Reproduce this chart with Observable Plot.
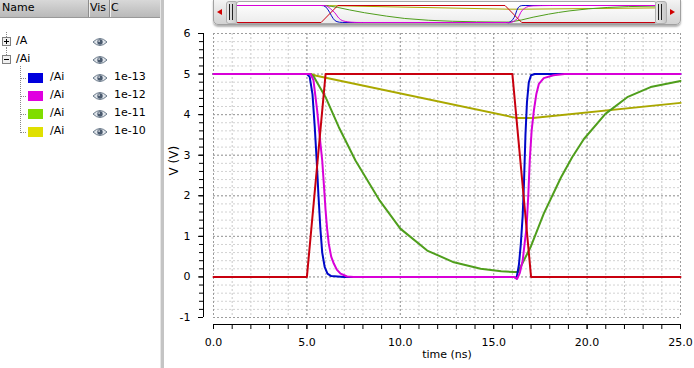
<!DOCTYPE html>
<html><head><meta charset="utf-8">
<script src="https://cdn.jsdelivr.net/npm/d3@7"></script>
<script src="https://cdn.jsdelivr.net/npm/@observablehq/plot@0.6"></script>
<style>
html,body{margin:0;padding:0;background:#fff;}
body{width:694px;height:368px;position:relative;overflow:hidden;font-family:"DejaVu Sans",sans-serif;font-size:11px;color:#000;}
.abs{position:absolute;}
.txt{position:absolute;line-height:12px;white-space:nowrap;}
</style></head><body>
<div id="panel" class="abs" style="left:0;top:0;width:160px;height:368px;background:#fff;"></div>
<div class="abs" style="left:160px;top:0;width:3px;height:368px;background:#c4c4c4;border-left:1px solid #e6e6e6;"></div>
<div id="scroll" class="abs" style="left:0;top:0;width:694px;height:28px;"></div>
<div id="chart" class="abs" style="left:160px;top:28px;"></div>
<script>
// ---- data ----
const timeMajor = [0, 5, 10, 15, 20, 25];
const timeMinor = d3.range(0, 26, 1);
const voltMajor = [-1, 0, 1, 2, 3, 4, 5, 6];
const voltMinor = d3.range(0, 36).map(i => Math.round((-1 + i * 0.2) * 10) / 10);

// input /A
const tA = [0, 5, 6, 16, 17, 25];
const vA = [0, 0, 5, 5, 0, 0];
// /Ai 1e-13
const t13 = [0, 5.0, 5.15, 5.3, 5.42, 5.52, 5.62, 5.72, 5.82, 5.95, 6.1, 6.3, 7, 16.1, 16.22, 16.35, 16.45, 16.55, 16.62, 16.7, 16.78, 16.88, 17.0, 17.2, 25];
const v13 = [5, 5, 4.93, 4.5, 3.7, 2.9, 2.0, 1.2, 0.6, 0.25, 0.08, 0.02, 0, 0, -0.04, 0.3, 0.8, 1.5, 2.3, 3.5, 4.3, 4.8, 4.97, 5, 5];
// /Ai 1e-12
const t12 = [0, 5.2, 5.35, 5.55, 5.7, 5.82, 5.92, 6.0, 6.08, 6.17, 6.3, 6.44, 6.6, 6.8, 7.15, 7.5, 16.1, 16.25, 16.4, 16.55, 16.65, 16.76, 16.85, 16.93, 17.03, 17.15, 17.28, 17.42, 17.68, 18.2, 18.8, 25];
const v12 = [5, 5, 4.85, 4.1, 3.4, 2.87, 2.2, 1.64, 1.2, 0.82, 0.5, 0.33, 0.18, 0.08, 0.01, 0, 0, -0.05, 0.1, 0.4, 0.8, 1.22, 2.0, 2.87, 3.6, 4.1, 4.5, 4.76, 4.9, 4.97, 5, 5];
// /Ai 1e-11
const t11 = [0, 5.2, 5.35, 5.6, 6.0, 6.71, 7.6, 8.9, 10.0, 11.44, 12.87, 14.3, 15.4, 16.1, 16.3, 16.97, 17.68, 18.6, 19.2, 19.83, 20.98, 22.15, 23.4, 25];
const v11 = [5, 5, 4.95, 4.75, 4.43, 3.69, 2.87, 1.88, 1.19, 0.65, 0.36, 0.2, 0.14, 0.12, 0.12, 0.73, 1.56, 2.45, 2.95, 3.4, 4.02, 4.43, 4.68, 4.83];
// /Ai 1e-10
const t10 = [0, 5.2, 5.5, 16.2, 17.1, 25];
const v10 = [5, 5, 4.96, 3.92, 3.92, 4.29];

// legend (tree) labels
const treeTop = ["/A", "/Ai"];
const childNames = ["/Ai", "/Ai", "/Ai", "/Ai"];
const childParams = ["1e-13", "1e-12", "1e-11", "1e-10"];
const swatchColors = ["#0000dd", "#e000e0", "#80dd00", "#e0e000"];
const lineColors = {A: "#c8000f", p13: "#0008c8", p12: "#d800d8", p11: "#4f9e1c", p10: "#aaa800"};

const toRows = (t, v) => t.map((x, i) => ({t: x, v: v[i]}));
const sA = toRows(tA, vA), s13 = toRows(t13, v13), s12 = toRows(t12, v12), s11 = toRows(t11, v11), s10 = toRows(t10, v10);

function lines(w) {
  return [
    Plot.line(s10, {x: "t", y: "v", stroke: lineColors.p10, strokeWidth: w}),
    Plot.line(s11, {x: "t", y: "v", stroke: lineColors.p11, strokeWidth: w}),
    Plot.line(s13, {x: "t", y: "v", stroke: lineColors.p13, strokeWidth: w}),
    Plot.line(s12, {x: "t", y: "v", stroke: lineColors.p12, strokeWidth: w}),
    Plot.line(sA, {x: "t", y: "v", stroke: lineColors.A, strokeWidth: w})
  ];
}

// ---- main chart ----
const dash = "2,2";
const chart = Plot.plot({
  width: 534, height: 340,
  marginLeft: 53, marginRight: 14, marginTop: 5, marginBottom: 51,
  style: {fontFamily: "DejaVu Sans", fontSize: "11px", background: "transparent", color: "#000"},
  x: {domain: [0, 25]},
  y: {domain: [-1, 6]},
  marks: [
    Plot.gridX(timeMinor, {stroke: "#c8c8c8", strokeOpacity: 1, strokeDasharray: dash}),
    Plot.gridY(voltMinor, {stroke: "#d2d2d2", strokeOpacity: 1, strokeDasharray: dash}),
    Plot.gridX(timeMajor, {stroke: "#9c9c9c", strokeOpacity: 1, strokeDasharray: dash}),
    Plot.gridY(voltMajor, {stroke: "#9c9c9c", strokeOpacity: 1, strokeDasharray: dash}),
    Plot.ruleX([0], {y1: -1, y2: 6, dx: -10, stroke: "#000"}),
    Plot.axisY(voltMinor, {anchor: "left", tickSize: 4, dx: -10, tickFormat: () => "", label: null}),
    Plot.axisY(voltMajor, {anchor: "left", tickSize: 5, tickPadding: 8, dx: -10, tickFormat: d => String(d), label: null, fill: "#000"}),
    Plot.ruleY([-1], {x1: 0, x2: 25, dy: 7, stroke: "#000"}),
    Plot.axisX(timeMinor, {anchor: "bottom", tickSize: 5, dy: 7, tickFormat: () => "", label: null}),
    Plot.axisX(timeMajor, {anchor: "bottom", tickSize: 5, tickPadding: 9, dy: 7, tickFormat: d3.format(".1f"), label: null, fill: "#000"}),
    Plot.text(["time (ns)"], {frameAnchor: "bottom", dy: 40, fill: "#000"}),
    Plot.text(["V (V)"], {frameAnchor: "left", dx: -39, rotate: -90, fill: "#000", fontSize: 12}),
    ...lines(2)
  ]
});
document.getElementById("chart").appendChild(chart);

// ---- overview strip in scrollbar ----
const scroll = document.getElementById("scroll");
scroll.innerHTML = `
<div class="abs" style="left:213px;top:-1px;width:466px;height:24px;border:1px solid #a0a0a0;border-radius:0 0 5px 5px;background:linear-gradient(#f4f4f4,#d2d2d2);box-shadow:0 2px 2px rgba(0,0,0,0.3);"></div>
<div class="abs" style="left:217px;top:9px;width:0;height:0;border-top:3px solid transparent;border-bottom:3px solid transparent;border-right:5px solid #d00000;"></div>
<div class="abs" style="left:226px;top:1px;width:10px;height:21px;border-radius:3px;background:linear-gradient(90deg,#e8e8e8,#c8c8c8);border:1px solid #b0b0b0;"></div>
<div class="abs" style="left:229px;top:4px;width:1px;height:16px;background:#222;"></div>
<div class="abs" style="left:232px;top:4px;width:1px;height:16px;background:#222;"></div>
<div class="abs" style="left:236px;top:1px;width:419px;height:21px;border:1px solid #a8a8a8;border-radius:3px;background:linear-gradient(#ffffff,#ececec);"></div>
<div class="abs" style="left:655px;top:1px;width:10px;height:21px;border-radius:3px;background:linear-gradient(90deg,#e8e8e8,#c8c8c8);border:1px solid #b0b0b0;"></div>
<div class="abs" style="left:658px;top:4px;width:1px;height:16px;background:#222;"></div>
<div class="abs" style="left:661px;top:4px;width:1px;height:16px;background:#222;"></div>
<div class="abs" style="left:670px;top:9px;width:0;height:0;border-top:3px solid transparent;border-bottom:3px solid transparent;border-left:5px solid #d00000;"></div>
<div id="thumb" class="abs" style="left:237px;top:0px;"></div>`;
const thumb = Plot.plot({
  width: 418, height: 24, marginLeft: 0, marginRight: 0, marginTop: 5, marginBottom: 2,
  style: {background: "transparent"},
  x: {domain: [0, 25], axis: null},
  y: {domain: [0, 5], axis: null},
  marks: lines(1)
});
document.getElementById("thumb").appendChild(thumb);

// ---- left tree panel ----
const eye = `<svg width="16" height="10" viewBox="0 0 16 10"><path d="M1,5 Q8,-2 15,5 Q8,12 1,5Z" fill="#dfe4ea" stroke="#687888" stroke-width="1"/><circle cx="8" cy="5" r="2.7" fill="#4a5a6e"/><circle cx="7.1" cy="4.1" r="0.8" fill="#fff"/></svg>`;
const box = plus => `<svg width="9" height="9" viewBox="0 0 9 9"><rect x="0.5" y="0.5" width="8" height="8" fill="#f0f0f0" stroke="#808080"/><line x1="2" y1="4.5" x2="7" y2="4.5" stroke="#000"/>${plus ? '<line x1="4.5" y1="2" x2="4.5" y2="7" stroke="#000"/>' : ''}</svg>`;
let html = `
<div class="abs" style="left:0;top:0;width:160px;height:17px;background:linear-gradient(#d8d8d8,#b9b9b9);border-bottom:1px solid #999;"></div>
<div class="abs" style="left:88px;top:0;width:1px;height:17px;background:#8c8c8c;border-right:1px solid #eee;"></div>
<div class="abs" style="left:109px;top:0;width:1px;height:17px;background:#8c8c8c;border-right:1px solid #eee;"></div>
<div class="txt" style="left:2px;top:2px;">Name</div>
<div class="txt" style="left:90px;top:2px;">Vis</div>
<div class="txt" style="left:111px;top:2px;">C</div>
<div class="abs" style="left:6px;top:32px;width:0;height:5px;border-left:1px dotted #888;"></div>
<div class="abs" style="left:6px;top:47px;width:0;height:8px;border-left:1px dotted #888;"></div>
<div class="abs" style="left:20px;top:66px;width:0;height:67px;border-left:1px dotted #888;"></div>`;
const topY = [42, 60];
treeTop.forEach((n, i) => {
  html += `<div class="abs" style="left:2px;top:${topY[i] - 5}px;line-height:0">${box(i === 0)}</div>`;
  html += `<div class="txt" style="left:16px;top:${topY[i] - 7}px;">${n}</div>`;
  html += `<div class="abs" style="left:92px;top:${topY[i] - 5}px;line-height:0">${eye}</div>`;
});
childNames.forEach((n, i) => {
  const y = 78 + i * 18;
  html += `<div class="abs" style="left:21px;top:${y}px;width:5px;height:0;border-top:1px dotted #888;"></div>`;
  html += `<div class="abs" style="left:28px;top:${y - 5}px;width:15px;height:10px;background:${swatchColors[i]};"></div>`;
  html += `<div class="txt" style="left:50px;top:${y - 7}px;">${n}</div>`;
  html += `<div class="abs" style="left:92px;top:${y - 5}px;line-height:0">${eye}</div>`;
  html += `<div class="txt" style="left:114px;top:${y - 7}px;">${childParams[i]}</div>`;
});
document.getElementById("panel").innerHTML = html;
</script>
</body></html>
